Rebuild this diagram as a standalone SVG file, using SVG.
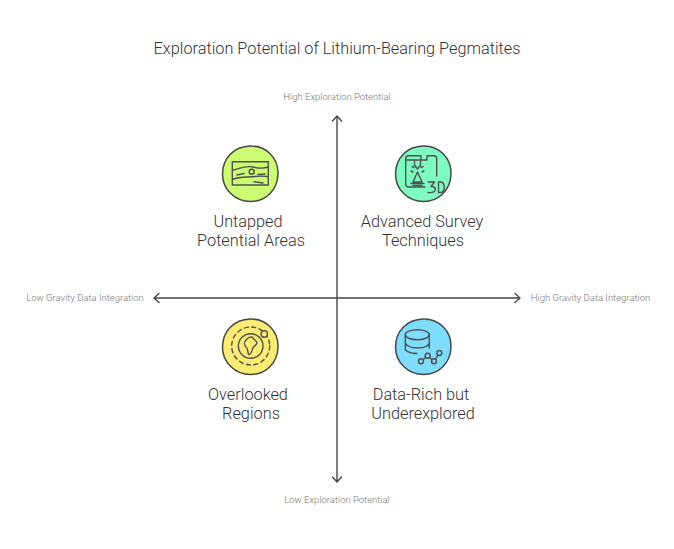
<svg xmlns="http://www.w3.org/2000/svg" width="674" height="549" viewBox="0 0 674 549">
<style>
text{font-family:Roboto,"Liberation Sans",sans-serif;text-anchor:middle;font-weight:300}
.t{font-size:16.300px;fill:#333}
.l{font-size:16.300px;fill:#333}
.a{font-size:9.500px;fill:#777}
.c{stroke:#484848;stroke-width:1.5}
.i{stroke:#505050;stroke-width:1.400;fill:none;stroke-linecap:round;stroke-linejoin:round}
.ax{stroke:#484848;stroke-width:1.400;fill:none;stroke-linecap:round;stroke-linejoin:round}
</style>
<rect width="674" height="549" fill="#fff"/>
<text class="t" x="337" y="54">Exploration Potential of Lithium-Bearing Pegmatites</text>
<g id="connectors">
<path class="ax" d="M337 116V482M332.500 121L337 116L341.500 121M332.500 477L337 482L341.500 477"/>
<path class="ax" d="M154 298H520M159 293.500L154 298L159 302.500M515 293.500L520 298L515 302.500"/>
</g>
<g id="axis-labels">
<text class="a" x="337" y="100">High Exploration Potential</text>
<text class="a" x="337" y="503">Low Exploration Potential</text>
<text class="a" x="85" y="301">Low Gravity Data Integration</text>
<text class="a" x="590.500" y="301">High Gravity Data Integration</text>
</g>
<g id="untapped">
<path class="c" style="fill:#ccfa70" d="M250 146C266 145.500 278.500 158 278 174C277.500 190 266 201.500 250.500 201.500C235 201.500 222.500 189.500 222.500 174C222.500 158 234 146.500 250 146Z"/>
<path class="i" d="M232.300 161.700H268.300V185H232.300ZM232.300 170.500C240 168 246 165.500 253 167C259 168.500 263 168.800 268.300 167M232.300 179.500C240 176 248 177.500 255 176.500C260 175.800 264 176 268.300 176.500M237 175L244 173.500M258 174.500L265 174M254 181.700L263 183"/>
<circle class="i" cx="251.700" cy="171.700" r="2.500"/>
<text class="l" x="248" y="227">Untapped</text>
<text class="l" x="251" y="246">Potential Areas</text>
</g>
<g id="advanced">
<path class="c" style="fill:#7dfbc0" d="M423 146C439 145.500 451.500 158 451 174C450.500 190 439 201.500 423.500 201.500C408 201.500 395.500 189.500 395.500 174C395.500 158 407 146.500 423 146Z"/>
<path class="i" d="M425 187H408.500Q405.700 187 405.700 184V158.500Q405.700 155.700 408.500 155.700H421V160H406M427 155.700H434Q436.700 155.700 436.700 158.500V176M427 155.700V160H421"/>
<path class="i" d="M414.500 161V165L417.500 169L420.500 165V161M417.500 172L413 182H422ZM411 183.500H424M413 185.500H422M411 171L413 172M424 171L422 172M412 166.500L414 167.500M423 166.500L421 167.500"/>
<path class="i" d="M428 182H434.500L431 186.500C437 186 437.500 193.500 428 192.500M438.500 182V192.500H440.500C445.500 192.500 445.500 182 440.500 182Z"/>
<text class="l" x="422" y="227">Advanced Survey</text>
<text class="l" x="423" y="246">Techniques</text>
</g>
<g id="overlooked">
<path class="c" style="fill:#fdec74" d="M250 319C266 318.500 278.500 331 278 347C277.500 363 266 374.500 250.500 374.500C235 374.500 222.500 362.500 222.500 347C222.500 331 234 319.500 250 319Z"/>
<circle class="i" cx="250.700" cy="346" r="12.300"/>
<circle class="i" cx="250.700" cy="346" r="19" stroke-dasharray="4 3.500"/>
<circle cx="264.300" cy="334" r="3.200" style="fill:#fdec74" class="i"/>
<path class="i" d="M246 340C248 337 252 336 253 338C253 340 257 340 257 343C256 346 253 346 252.500 349C252 352 250 355 248.500 354.500C247.500 351 248 349 246 347C244 345 244 342 246 340Z"/>
<text class="l" x="248" y="400">Overlooked</text>
<text class="l" x="251" y="419">Regions</text>
</g>
<g id="data-rich">
<path class="c" style="fill:#7edcfd" d="M423 319C439 318.500 451.500 331 451 347C450.500 363 439 374.500 423.500 374.500C408 374.500 395.500 362.500 395.500 347C395.500 331 407 319.500 423 319Z"/>
<ellipse class="i" cx="417.300" cy="334.700" rx="12" ry="5"/>
<path class="i" d="M405.300 334.700V349.700C408 352.500 412 353.500 417 353.500M429.300 334.700V348M405.300 343C407 346.500 412 348 418 348C423 348 428 346.500 429.300 343"/>
<circle class="i" cx="421" cy="361.300" r="2.500"/><circle class="i" cx="427.700" cy="355.800" r="2.500"/><circle class="i" cx="434" cy="361.300" r="2.500"/><circle class="i" cx="439.300" cy="353" r="2.500"/>
<path class="i" d="M423 359.700L425.700 357.400M429.600 357.400L432.100 359.700M435.300 359.200L438 355.100"/>
<text class="l" x="421" y="400">Data-Rich but</text>
<text class="l" x="423" y="419">Underexplored</text>
</g>
</svg>
